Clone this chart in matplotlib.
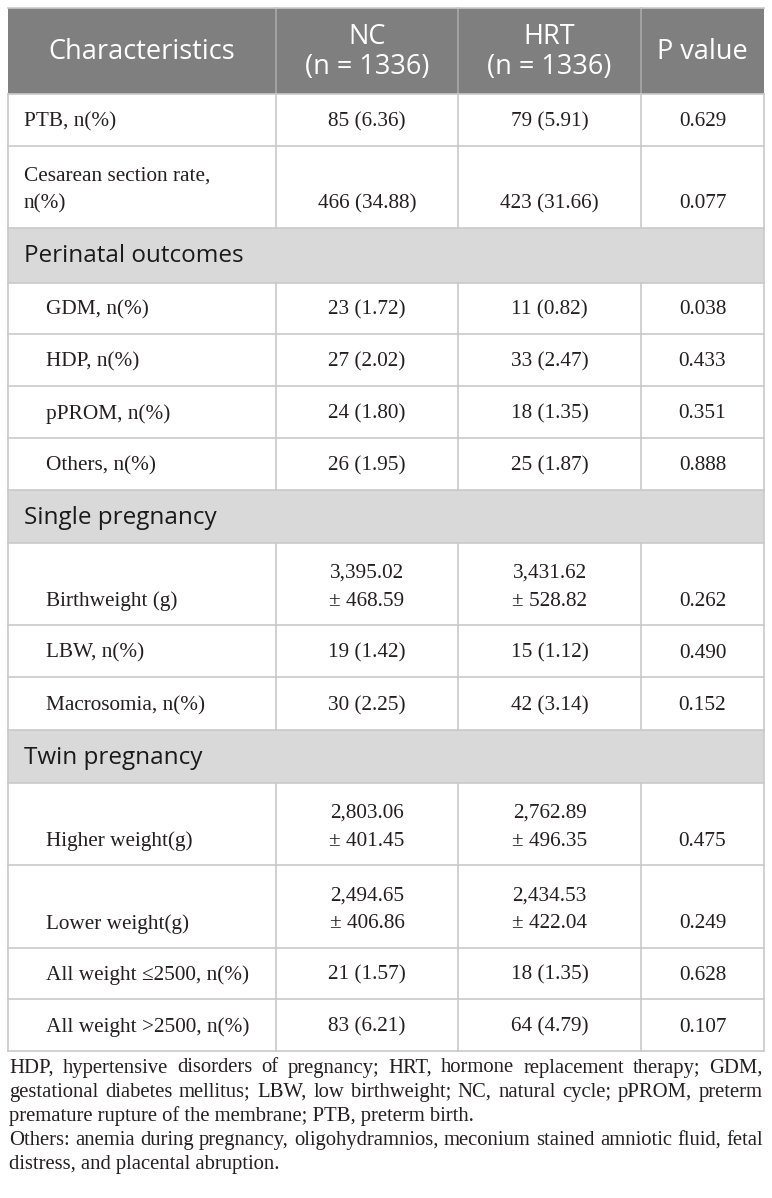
import matplotlib
matplotlib.use("Agg")
import matplotlib.pyplot as plt
from matplotlib.patches import Rectangle

# ---------------- data ----------------
header = ["Characteristics", "NC\n(n = 1336)", "HRT\n(n = 1336)", "P value"]

row_labels = [
    "PTB, n(%)",
    "Cesarean section rate,\nn(%)",
    "Perinatal outcomes",
    "GDM, n(%)",
    "HDP, n(%)",
    "pPROM, n(%)",
    "Others, n(%)",
    "Single pregnancy",
    "Birthweight (g)",
    "LBW, n(%)",
    "Macrosomia, n(%)",
    "Twin pregnancy",
    "Higher weight(g)",
    "Lower weight(g)",
    "All weight \u22642500, n(%)",
    "All weight >2500, n(%)",
]
row_kind = ["top", "top", "section", "sub", "sub", "sub", "sub", "section",
            "sub", "sub", "sub", "section", "sub", "sub", "sub", "sub"]
nc_values = ["85 (6.36)", "466 (34.88)", None, "23 (1.72)", "27 (2.02)", "24 (1.80)",
             "26 (1.95)", None, "3,395.02\n\u00b1 468.59", "19 (1.42)", "30 (2.25)", None,
             "2,803.06\n\u00b1 401.45", "2,494.65\n\u00b1 406.86", "21 (1.57)", "83 (6.21)"]
hrt_values = ["79 (5.91)", "423 (31.66)", None, "11 (0.82)", "33 (2.47)", "18 (1.35)",
              "25 (1.87)", None, "3,431.62\n\u00b1 528.82", "15 (1.12)", "42 (3.14)", None,
              "2,762.89\n\u00b1 496.35", "2,434.53\n\u00b1 422.04", "18 (1.35)", "64 (4.79)"]
p_values = ["0.629", "0.077", None, "0.038", "0.433", "0.351", "0.888", None,
            "0.262", "0.490", "0.152", None, "0.475", "0.249", "0.628", "0.107"]

footnote_lines = [
    ("HDP, hypertensive disorders of pregnancy; HRT, hormone replacement therapy; GDM,", True),
    ("gestational diabetes mellitus; LBW, low birthweight; NC, natural cycle; pPROM, preterm", True),
    ("premature rupture of the membrane; PTB, preterm birth.", False),
    ("Others: anemia during pregnancy, oligohydramnios, meconium stained amniotic fluid, fetal", True),
    ("distress, and placental abruption.", False),
]

# ---------------- layout ----------------
W, H = 772, 1198
X_EDGES = [8, 276, 458, 641, 764]
Y_EDGES = [8, 94, 146, 228, 283, 334, 386, 438, 490, 543, 625, 677, 730, 783, 865, 948, 999, 1051]

HEADER_BG = "#7f7f7f"
SECTION_BG = "#d9d9d9"
GRID = "#c9c9c9"
TEXT = "#231f20"

SERIF = ["Liberation Serif", "DejaVu Serif"]
SANS = ["Open Sans", "DejaVu Sans"]
BODY_FS = 15.3
HEAD_FS = 19.5
SEC_FS = 17.5
FOOT_FS = 14.9
LINE_STEP = 28

fig = plt.figure(figsize=(W / 100, H / 100), dpi=100)
ax = fig.add_axes([0, 0, 1, 1])
ax.set_xlim(0, W)
ax.set_ylim(H, 0)
ax.axis("off")

lw = 1.2

# header
ax.add_patch(Rectangle((X_EDGES[0], Y_EDGES[0]), X_EDGES[-1] - X_EDGES[0],
                       Y_EDGES[1] - Y_EDGES[0], facecolor=HEADER_BG, edgecolor="none"))
for x in X_EDGES[1:-1]:
    ax.plot([x, x], [Y_EDGES[0], Y_EDGES[1]], color="#a8a8a8", lw=lw)
ax.plot([X_EDGES[0], X_EDGES[-1]], [Y_EDGES[0], Y_EDGES[0]], color=GRID, lw=lw)
hy = 52
for i, h in enumerate(header):
    cx = (X_EDGES[i] + X_EDGES[i + 1]) / 2
    lines = h.split("\n")
    n = len(lines)
    for k, ln in enumerate(lines):
        y = hy + (k - (n - 1) / 2) * 31
        ax.text(cx, y, ln, ha="center", va="center", color="white",
                fontsize=HEAD_FS, family=SANS)

# body rows
for r, label in enumerate(row_labels):
    y0, y1 = Y_EDGES[r + 1], Y_EDGES[r + 2]
    kind = row_kind[r]
    if kind == "section":
        ax.add_patch(Rectangle((X_EDGES[0], y0), X_EDGES[-1] - X_EDGES[0], y1 - y0,
                               facecolor=SECTION_BG, edgecolor="none"))
        ax.text(24, (y0 + y1) / 2 + 1, label, ha="left", va="center", color="#1a1a1a",
                fontsize=SEC_FS, family=SANS)
        continue
    for x in X_EDGES[1:-1]:
        ax.plot([x, x], [y0, y1], color=GRID, lw=lw)
    base = y1 - 24
    cells = [label, nc_values[r], hrt_values[r], p_values[r]]
    for c, txt in enumerate(cells):
        lines = txt.split("\n")
        n = len(lines)
        for k, ln in enumerate(lines):
            y = base - (n - 1 - k) * LINE_STEP
            if c == 0:
                x = 24 if kind == "top" else 46
                ax.text(x, y, ln, ha="left", va="center", color=TEXT,
                        fontsize=BODY_FS, family=SERIF)
            else:
                cx = (X_EDGES[c] + X_EDGES[c + 1]) / 2
                ax.text(cx, y, ln, ha="center", va="center", color=TEXT,
                        fontsize=BODY_FS, family=SERIF)

# horizontal lines
for y in Y_EDGES[1:]:
    ax.plot([X_EDGES[0], X_EDGES[-1]], [y, y], color=GRID, lw=lw)
# outer border
for x in (X_EDGES[0], X_EDGES[-1]):
    ax.plot([x, x], [Y_EDGES[1], Y_EDGES[-1]], color=GRID, lw=lw)

# footnote (justified)
renderer = fig.canvas.get_renderer()
FX0, FX1 = 9, 763
fy = 1068
for line, justify in footnote_lines:
    words = line.split(" ")
    if not justify:
        ax.text(FX0, fy, line, ha="left", va="center", color=TEXT,
                fontsize=FOOT_FS, family=SERIF)
    else:
        ts = [ax.text(0, fy, w, ha="left", va="center", color=TEXT,
                      fontsize=FOOT_FS, family=SERIF) for w in words]
        widths = [t.get_window_extent(renderer).width for t in ts]
        gap = max((FX1 - FX0 - sum(widths)) / (len(words) - 1), 2.0)
        x = FX0
        for t, w in zip(ts, widths):
            t.set_x(x)
            x += w + gap
    fy += 24.2

fig.savefig("out.png", dpi=100)
